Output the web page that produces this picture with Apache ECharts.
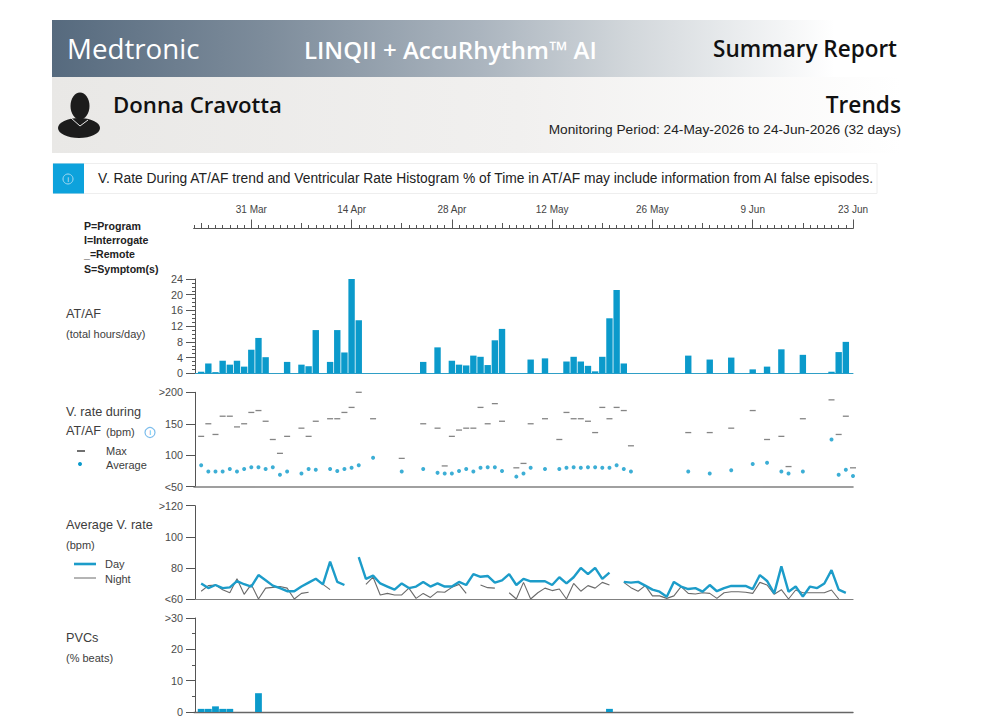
<!DOCTYPE html>
<html><head><meta charset="utf-8">
<style>html,body{margin:0;padding:0;background:#fff}#c{width:985px;height:724px}</style>
<script src="https://cdn.jsdelivr.net/npm/echarts@6/dist/echarts.min.js"></script>
</head><body><div id="c"></div>
<script>
const days = [
'23 Mar','24 Mar','25 Mar','26 Mar','27 Mar','28 Mar','29 Mar','30 Mar','31 Mar',
'1 Apr','2 Apr','3 Apr','4 Apr','5 Apr','6 Apr','7 Apr','8 Apr','9 Apr','10 Apr','11 Apr','12 Apr','13 Apr','14 Apr','15 Apr','16 Apr','17 Apr','18 Apr','19 Apr','20 Apr','21 Apr','22 Apr','23 Apr','24 Apr','25 Apr','26 Apr','27 Apr','28 Apr','29 Apr','30 Apr',
'1 May','2 May','3 May','4 May','5 May','6 May','7 May','8 May','9 May','10 May','11 May','12 May','13 May','14 May','15 May','16 May','17 May','18 May','19 May','20 May','21 May','22 May','23 May','24 May','25 May','26 May','27 May','28 May','29 May','30 May','31 May',
'1 Jun','2 Jun','3 Jun','4 Jun','5 Jun','6 Jun','7 Jun','8 Jun','9 Jun','10 Jun','11 Jun','12 Jun','13 Jun','14 Jun','15 Jun','16 Jun','17 Jun','18 Jun','19 Jun','20 Jun','21 Jun','22 Jun','23 Jun'];
const tickLabels = ['31 Mar','14 Apr','28 Apr','12 May','26 May','9 Jun','23 Jun'];
const weeklyTicks = ['24 Mar','31 Mar','7 Apr','14 Apr','21 Apr','28 Apr','5 May','12 May','19 May','26 May','2 Jun','9 Jun','16 Jun','23 Jun'];
const n = null;
const atAfHours = [
n,0.4,2.5,0.3,3.2,2.2,3.2,1.7,6,9,
4.1,n,n,2.9,n,2.2,1.8,11,n,2.9,
11,5.3,24,13.5,n,n,n,n,n,n,
n,n,2.9,n,6.6,n,3.2,2.2,2.0,4.5,
4.2,2.1,8.4,11.3,n,n,n,3.5,n,3.8,
n,n,3.0,4.2,3.0,1.9,0.5,4.2,14,21.2,
2.5,n,n,n,n,n,n,n,n,4.5,
n,n,3.5,n,n,4.0,n,n,1.0,n,
1.7,n,6.1,n,n,4.7,n,n,n,0.4,
5.4,8.0,n];
const vRateMax = [
n,130,150,133,162,162,145,150,168,171,
154,125,103,130,n,143,130,154,n,158,
158,168,176,200,n,158,n,n,n,95,
n,n,150,n,143,83,130,140,143,143,
176,150,182,154,n,80,87,150,n,158,
n,125,168,158,158,154,136,176,158,176,
171,115,n,n,n,n,n,n,n,136,
n,n,136,n,n,143,n,n,171,n,
125,n,130,82,n,158,n,n,n,188,
133,162,80];
const vRateAvg = [
n,84,74,74,74,78,74,78,81,81,
78,81,69,74,n,71,78,77,n,78,
75,78,80,84,n,96,n,n,n,74,
n,n,78,n,72,71,71,75,78,74,
80,81,81,75,n,66,71,80,n,78,
n,78,80,81,80,81,81,80,80,84,
78,74,n,n,n,n,n,n,n,74,
n,n,71,n,n,76,n,n,86,n,
88,n,74,71,n,74,n,n,n,125,
69,77,67];
const dayRate = [
n,70,67,69,67,67.5,71.5,69.5,68,75.4,
72,68.6,67,65,65,68,70.5,73,69.4,84,
71,69,n,87,73,75,70,68,66,70,
67,68,71,68,70,68,68,71,69,76,
74.3,74.8,70.5,72,76,69,73,71.4,71.4,71.4,
69,74,70,74,80,76,80,73,77,n,
71,70.5,71,68.6,66,64.7,61.5,71,68,66.4,
67,64.7,69,65,67,68.4,68.4,68.4,66.4,75.4,
71.6,63.6,81,64.7,68,61.5,68,67,70,78.6,
66,64,n];
const nightRate = [
n,65,68.6,69,66,64,73,63,69.4,60,
67,67.5,68,67,60,63.6,64.3,n,69.4,66,
n,n,n,n,69.4,74,62.6,63.6,62.6,62.6,
67,60.4,63.6,61,64.7,64.3,67.5,69.4,63.6,n,
69,67.3,67,n,64,60,70.7,60,64,67,
65.4,66.4,60,70,65,68.6,67,70.7,69,n,
70.7,67.3,65,68.6,62,62,60.4,62,68,63.6,
63.2,64,63.6,60.4,64,64.7,64.7,64.3,63.6,70.7,
69,63,66,60,65.8,64,64,64,64,65.8,
60,n,n];
const pvcPercent = [
n,1,1,1.8,1,1,n,n,n,6,
n,n,n,n,n,n,n,n,n,n,
n,n,n,n,n,n,n,n,n,n,
n,n,n,n,n,n,n,n,n,n,
n,n,n,n,n,n,n,n,n,n,
n,n,n,n,n,n,n,n,1,n,
n,n,n,n,n,n,n,n,n,n,
n,n,n,n,n,n,n,n,n,n,
n,n,n,n,n,n,n,n,n,n,
n,n,n];
const rateTicks = {200:'>200',150:'150',100:'100',50:'<50'};
const avgTicks = {120:'>120',100:'100',80:'80',60:'<60'};
const pvcTicks = {30:'>30',20:'20',10:'10',0:'0'};

const BLUE = '#0b9acb', INK = '#3d3d3d', SANS = '"Liberation Sans"', HEAD = '"Open Sans"';
const LEFT = 194, W = 659;
const gridTops = [[279,94.3],[392.3,94.4],[505.7,93.3],[618,94]];

function txt(text,x,y,size,opt){opt=opt||{};return {type:'text',silent:true,z:opt.z||10,style:{text:text,x:x,y:y,
  font:(opt.w||'normal')+' '+size+'px '+(opt.f||SANS),fill:opt.c||INK,align:opt.a||'left',verticalAlign:'middle'}};}
function panelX(grid,lineColor,lineWidth){return {type:'category',gridIndex:grid,data:days,boundaryGap:false,
  axisLine:{show:true,onZero:false,lineStyle:{color:lineColor,width:lineWidth}},axisTick:{show:false},axisLabel:{show:false},splitLine:{show:false}};}
function panelY(grid,min,max,interval,fmt,minorSplit){return {type:'value',gridIndex:grid,min:min,max:max,interval:interval,offset:-1,
  axisLine:{show:true,lineStyle:{color:'#555',width:1}},
  axisTick:{show:true,length:9,lineStyle:{color:'#555',width:1}},
  minorTick:{show:!!minorSplit,splitNumber:minorSplit||5,length:3,lineStyle:{color:'#555',width:1}},
  splitLine:{show:false},minorSplitLine:{show:false},
  axisLabel:{margin:12,fontSize:10.8,fontFamily:SANS,color:'#4a4a4a',formatter:fmt}};}
function topAxis(len,width,test,labels){return {type:'category',gridIndex:0,data:days,boundaryGap:false,position:'top',
  axisLine:{show:true,onZero:false,lineStyle:{color:'#555',width:1}},
  axisTick:{show:true,length:len,interval:function(i,v){return test(v);},lineStyle:{color:'#555',width:width}},
  axisLabel:{show:!!labels,margin:14,fontSize:10,fontFamily:SANS,color:'#444',interval:function(i,v){return tickLabels.indexOf(v)>=0;}},
  splitLine:{show:false}};}

const chart = echarts.init(document.getElementById('c'),null,{renderer:'svg',width:985,height:724});
chart.setOption({
  animation:false,backgroundColor:'#fff',
  grid:[{left:LEFT,width:W,top:228,height:30,show:false}].concat(gridTops.map(g=>({left:LEFT,width:W,top:g[0],height:g[1],show:false}))),
  xAxis:[
    topAxis(3,1,()=>true,false),
    topAxis(5,1,v=>weeklyTicks.indexOf(v)>=0,false),
    topAxis(8.5,1,v=>tickLabels.indexOf(v)>=0,true),
    panelX(1,'#2f9fc6',1),panelX(2,'#808080',1.6),panelX(3,'#808080',1.2),panelX(4,'#666',1.4)
  ],
  yAxis:[
    {type:'value',gridIndex:0,show:false,min:0,max:1},
    panelY(1,0,24,4,v=>String(v),4),
    panelY(2,50,200,50,v=>rateTicks[v]),
    panelY(3,60,120,20,v=>avgTicks[v]),
    panelY(4,0,30,10,v=>pvcTicks[v],2)
  ],
  series:[
    {type:'bar',name:'AT/AF',xAxisIndex:3,yAxisIndex:1,data:atAfHours,barWidth:6.4,itemStyle:{color:BLUE}},
    {type:'scatter',name:'Max',xAxisIndex:4,yAxisIndex:2,data:vRateMax,symbol:'rect',symbolSize:[6,1.3],itemStyle:{color:'#666'},clip:false},
    {type:'scatter',name:'Average',xAxisIndex:4,yAxisIndex:2,data:vRateAvg,symbol:'circle',symbolSize:4,itemStyle:{color:BLUE},clip:false},
    {type:'line',name:'Night',xAxisIndex:5,yAxisIndex:3,data:nightRate,showSymbol:false,connectNulls:false,lineStyle:{color:'#6a6a6a',width:1.1},clip:false},
    {type:'line',name:'Day',xAxisIndex:5,yAxisIndex:3,data:dayRate,showSymbol:false,connectNulls:false,lineStyle:{color:'#1c9cc9',width:2.4},clip:false},
    {type:'bar',name:'PVCs',xAxisIndex:6,yAxisIndex:4,data:pvcPercent,barWidth:6.8,itemStyle:{color:BLUE}}
  ],
  graphic:{elements:[
    {type:'rect',silent:true,z:1,shape:{x:52,y:20,width:850,height:57},style:{fill:new echarts.graphic.LinearGradient(0,0,1,0,[
      {offset:0,color:'#566a7e'},{offset:0.25,color:'#7d8c9b'},{offset:0.5,color:'#aab4be'},{offset:0.68,color:'#d2d7db'},{offset:0.92,color:'#ffffff'},{offset:1,color:'#ffffff'}])}},
    {type:'rect',silent:true,z:1,shape:{x:52,y:77,width:850,height:76},style:{fill:new echarts.graphic.LinearGradient(0,0,1,0,[
      {offset:0,color:'#e9e8e6'},{offset:0.55,color:'#f1f0ef'},{offset:1,color:'#ffffff'}])}},
    txt('Medtronic',67,48,27.7,{c:'#fff',f:HEAD,w:'500'}),
    txt('LINQII + AccuRhythm\u2122 AI',304,49,24,{c:'#fff',f:HEAD,w:'600'}),
    txt('Summary Report',897,48,22.5,{c:'#111',f:HEAD,w:'600',a:'right'}),
    {type:'ellipse',silent:true,z:5,shape:{cx:80,cy:106,rx:9.5,ry:13.5},style:{fill:'#1c1c1c'}},
    {type:'ellipse',silent:true,z:5,shape:{cx:79,cy:128,rx:21,ry:10},style:{fill:'#1c1c1c'}},
    {type:'polyline',silent:true,z:6,shape:{points:[[71,118],[80,126],[88,120]]},style:{stroke:'#e8e8e8',fill:'none',lineWidth:1}},
    txt('Donna Cravotta',113,104,22.2,{c:'#111',f:HEAD,w:'600'}),
    txt('Trends',901,104,22.7,{c:'#111',f:HEAD,w:'600',a:'right'}),
    txt('Monitoring Period: 24-May-2026 to 24-Jun-2026 (32 days)',901,129,13.7,{c:'#222',a:'right'}),
    {type:'rect',silent:true,z:1,shape:{x:53,y:163.5,width:824,height:30},style:{fill:'#fff',stroke:'#eeeeee',lineWidth:1}},
    {type:'rect',silent:true,z:2,shape:{x:53,y:163.5,width:31,height:30},style:{fill:'#0da2dc'}},
    {type:'circle',silent:true,z:3,shape:{cx:68,cy:179,r:5},style:{fill:'none',stroke:'#a9dcf3',lineWidth:1}},
    txt('i',68,179,7.5,{c:'#cdeaf8',a:'center'}),
    txt('V. Rate During AT/AF trend and Ventricular Rate Histogram % of Time in AT/AF may include information from AI false episodes.',98,178,13.8,{c:'#222'}),
    txt('P=Program',84,225.5,10.6,{w:'bold',c:'#222'}),
    txt('I=Interrogate',84,240,10.6,{w:'bold',c:'#222'}),
    txt('_=Remote',84,254,10.6,{w:'bold',c:'#222'}),
    txt('S=Symptom(s)',84,268.5,10.6,{w:'bold',c:'#222'}),
    txt('AT/AF',66,314,12.7),
    txt('(total hours/day)',66,334,11),
    txt('V. rate during',66,412,12.7),
    txt('AT/AF',66,431,12.7),
    txt('(bpm)',106,432,11),
    {type:'circle',silent:true,z:6,shape:{cx:150,cy:432.5,r:5},style:{fill:'#fff',stroke:'#7dbdec',lineWidth:1.2}},
    txt('i',150,432.5,7.5,{c:'#4a9fe0',a:'center'}),
    {type:'line',silent:true,z:6,shape:{x1:77,y1:451,x2:85,y2:451},style:{stroke:'#111',lineWidth:1.2}},
    txt('Max',106,451,11),
    {type:'circle',silent:true,z:6,shape:{cx:80,cy:464,r:2},style:{fill:BLUE}},
    txt('Average',106,465,11),
    txt('Average V. rate',66,525,12.7),
    txt('(bpm)',66,545,11),
    {type:'line',silent:true,z:6,shape:{x1:74,y1:564,x2:96,y2:564},style:{stroke:'#1c9cc9',lineWidth:2.6}},
    txt('Day',105,564,11),
    {type:'line',silent:true,z:6,shape:{x1:74,y1:578,x2:96,y2:578},style:{stroke:'#6a6a6a',lineWidth:1}},
    txt('Night',105,578.5,11),
    txt('PVCs',66,638,12.7),
    txt('(% beats)',66,658,11)
  ]}
});
</script></body></html>
